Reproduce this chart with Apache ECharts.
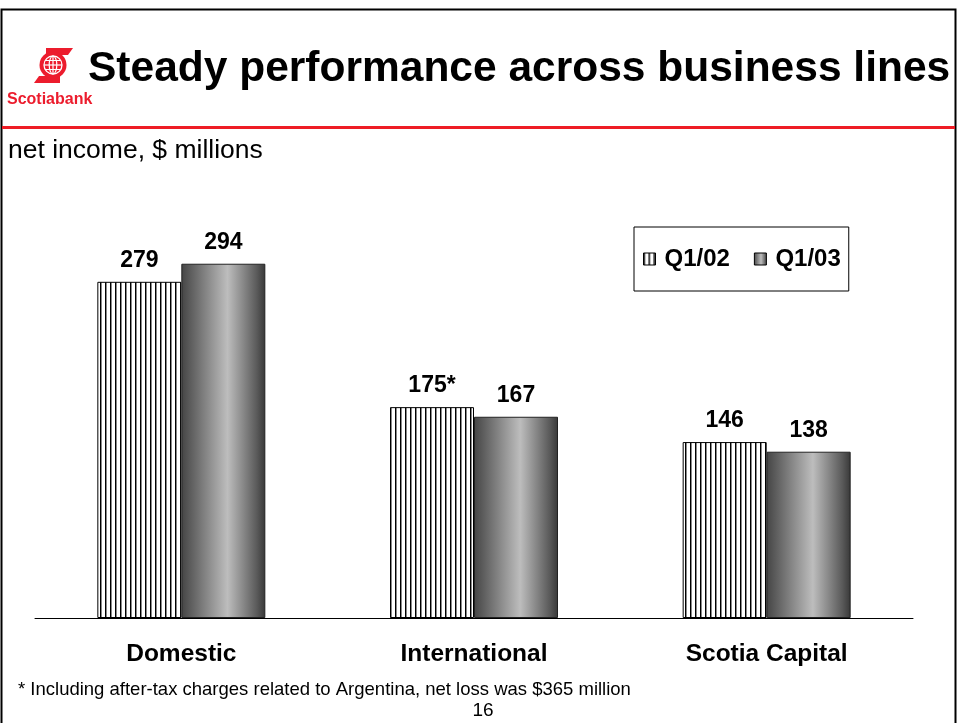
<!DOCTYPE html>
<html>
<head>
<meta charset="utf-8">
<script src="https://cdn.jsdelivr.net/npm/echarts@6/dist/echarts.min.js"></script>
<style>
  html, body { margin: 0; padding: 0; background: #fff; }
  #chart { width: 958px; height: 723px; }
</style>
</head>
<body>
<div id="chart"></div>
<script>
// Net income by business line, $ millions
const categories = ['Domestic', 'International', 'Scotia Capital'];
const seriesNames = ['Q1/02', 'Q1/03'];
const q102 = [279, 175, 146];
const q103 = [294, 167, 138];
const q102Marks = ['', '*', ''];   // footnote markers appended to labels

const FONT = '"Liberation Sans", Arial, sans-serif';

// Vertical hatch fill for the Q1/02 bars
function hatchPattern() {
  const c = document.createElement('canvas');
  c.width = 5; c.height = 8;
  const g = c.getContext('2d');
  g.fillStyle = '#ffffff';
  g.fillRect(0, 0, 5, 8);
  g.fillStyle = '#000000';
  g.fillRect(0, 0, 1, 8);
  g.fillStyle = '#888888';
  g.fillRect(1, 0, 1, 8);
  return c;
}

const shaded = new echarts.graphic.LinearGradient(0, 0, 1, 0, [
  { offset: 0, color: '#454545' },
  { offset: 0.55, color: '#bdbdbd' },
  { offset: 0.9, color: '#5a5a5a' },
  { offset: 1, color: '#383838' }
]);

const labelStyle = {
  show: true,
  position: 'top',
  distance: 10,
  fontFamily: FONT,
  fontWeight: 'bold',
  fontSize: 23,
  color: '#000'
};

const chart = echarts.init(document.getElementById('chart'), null, { renderer: 'canvas' });

chart.setOption({
  animation: false,
  backgroundColor: '#ffffff',
  grid: { left: 35, right: 45, top: 136, bottom: 105 },
  legend: {
    left: 634,
    top: 227,
    padding: [20, 8, 20, 9],
    borderColor: '#000',
    borderWidth: 1,
    icon: 'rect',
    itemWidth: 12,
    itemHeight: 12,
    itemGap: 24,
    data: seriesNames,
    textStyle: { fontFamily: FONT, fontWeight: 'bold', fontSize: 24, color: '#000',
                 padding: [0, 0, 0, 4] },
    itemStyle: { borderColor: '#000', borderWidth: 1 }
  },
  xAxis: {
    type: 'category',
    data: categories,
    axisLine: { lineStyle: { color: '#000', width: 1 } },
    axisTick: { show: false },
    axisLabel: {
      margin: 24,
      fontFamily: FONT,
      fontWeight: 'bold',
      fontSize: 24.5,
      color: '#000'
    }
  },
  yAxis: {
    type: 'value',
    min: 0,
    max: 400,
    show: false,
    splitLine: { show: false }
  },
  series: [
    {
      name: seriesNames[0],
      type: 'bar',
      barWidth: 84,
      barGap: '0%',
      data: q102.map((v, i) => ({
        value: v,
        label: { formatter: () => v + q102Marks[i] }
      })),
      itemStyle: {
        color: { image: hatchPattern(), repeat: 'repeat' },
        borderColor: '#000',
        borderWidth: 1
      },
      label: labelStyle
    },
    {
      name: seriesNames[1],
      type: 'bar',
      barWidth: 84,
      data: q103,
      itemStyle: {
        color: shaded,
        borderColor: '#222',
        borderWidth: 1
      },
      label: labelStyle
    }
  ],
  graphic: [
    // page frame
    { type: 'polyline', silent: true,
      shape: { points: [[1.5, 723], [1.5, 9.5], [955.5, 9.5], [955.5, 723]] },
      style: { stroke: '#000', lineWidth: 2, fill: null } },
    // red rule under the heading
    { type: 'rect', silent: true, shape: { x: 2, y: 126, width: 953, height: 3 },
      style: { fill: '#ee1c25' } },
    // bank emblem
    { type: 'polygon', silent: true, shape: { points: [[46, 48], [73, 48], [68, 55], [46, 55]] },
      style: { fill: '#ec1c2d' } },
    { type: 'polygon', silent: true, shape: { points: [[39, 76], [60, 76], [60, 83], [34, 83]] },
      style: { fill: '#ec1c2d' } },
    { type: 'circle', silent: true, shape: { cx: 53, cy: 65, r: 13.5 }, style: { fill: '#ec1c2d' } },
    { type: 'circle', silent: true, shape: { cx: 53, cy: 65, r: 9 },
      style: { fill: null, stroke: '#fff', lineWidth: 1.3 } },
    { type: 'ellipse', silent: true, shape: { cx: 53, cy: 65, rx: 3.8, ry: 9 },
      style: { fill: null, stroke: '#fff', lineWidth: 1.2 } },
    { type: 'line', silent: true, shape: { x1: 44, y1: 65, x2: 62, y2: 65 },
      style: { stroke: '#fff', lineWidth: 1.2 } },
    { type: 'line', silent: true, shape: { x1: 45.5, y1: 60.5, x2: 60.5, y2: 60.5 },
      style: { stroke: '#fff', lineWidth: 1 } },
    { type: 'line', silent: true, shape: { x1: 45.5, y1: 69.5, x2: 60.5, y2: 69.5 },
      style: { stroke: '#fff', lineWidth: 1 } },
    { type: 'line', silent: true, shape: { x1: 53, y1: 56, x2: 53, y2: 74 },
      style: { stroke: '#fff', lineWidth: 1.2 } },
    { type: 'text', silent: true,
      style: { x: 7, y: 100, verticalAlign: 'middle', text: 'Scotiabank', fill: '#ec1c2d',
               font: 'bold 16px ' + FONT } },
    // heading
    { type: 'text', silent: true,
      style: { x: 88, y: 69, verticalAlign: 'middle',
               text: 'Steady performance across business lines', fill: '#000',
               font: 'bold 42.5px ' + FONT } },
    { type: 'text', silent: true,
      style: { x: 8, y: 151, verticalAlign: 'middle', text: 'net income, $ millions',
               fill: '#000', font: '26.5px ' + FONT } },
    // footnote and page number
    { type: 'text', silent: true,
      style: { x: 18, y: 690, verticalAlign: 'middle',
               text: '* Including after-tax charges related to Argentina, net loss was $365 million',
               fill: '#000', font: '18.5px ' + FONT } },
    { type: 'text', silent: true,
      style: { x: 483, y: 711, align: 'center', verticalAlign: 'middle', text: '16',
               fill: '#000', font: '19px ' + FONT } }
  ]
});
</script>
</body>
</html>
